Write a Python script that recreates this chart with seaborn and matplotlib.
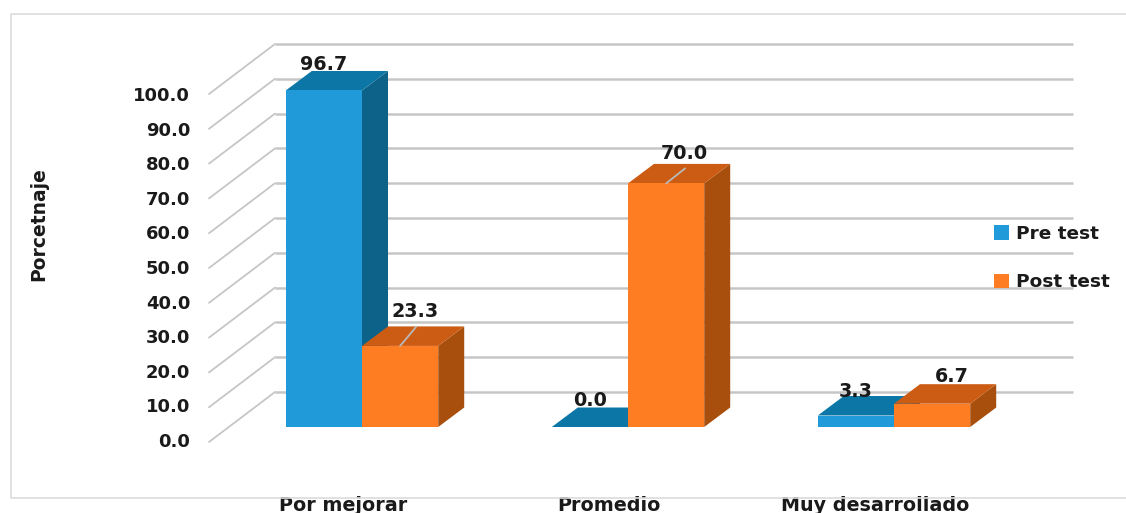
import matplotlib
matplotlib.use("Agg")
import matplotlib.pyplot as plt
from matplotlib.lines import Line2D
from matplotlib.patches import Polygon
import pandas as pd
import seaborn as sns

# Chart values
categories = ["Por mejorar", "Promedio", "Muy desarrollado"]
series_names = ["Pre test", "Post test"]
pre_test = [96.7, 0.0, 3.3]
post_test = [23.3, 70.0, 6.7]
axis_ticks = list(range(0, 101, 10))

# Face colours for the extruded bars: front, top, side
FRONT = {"Pre test": "#219ad9", "Post test": "#ff7d22"}
TOP = {"Pre test": "#0c76a6", "Post test": "#cc5c13"}
SIDE = {"Pre test": "#0c6288", "Post test": "#a94f0e"}
GRID = "#c6c6c6"
TEXT = "#1a1a1a"
FONT = "DejaVu Sans"

W, H = 1126, 513
DPI = 100
PX_PER_UNIT = 3.48   # vertical pixels per percentage point
PX_PER_CAT = 266.0   # horizontal pixels between category groups
BASE_PX = (362.0, 427.0)  # pixel of category 0, value 0 at the bar fronts

sns.set_style("white")
plt.rcParams["font.family"] = [FONT]

fig = plt.figure(figsize=(W / DPI, H / DPI), dpi=DPI, facecolor="white")

# Outer frame of the chart area: open on the right, running off the edge
frame_x = [1.0, 11 / W, 11 / W, 1.0]
frame_y = [1 - 14 / H, 1 - 14 / H, 1 - 498 / H, 1 - 498 / H]
fig.add_artist(Line2D(frame_x, frame_y, transform=fig.transFigure,
                      color="#dcdcdc", linewidth=1.2))

# Axis that carries the tick labels on the front plane of the floor
left_px, right_px, bottom_px, top_px = 200, 1073, 440, 94
axis = fig.add_axes([left_px / W, 1 - bottom_px / H,
                     (right_px - left_px) / W, (bottom_px - top_px) / H])
axis.set_ylim(0, 100)
axis.set_yticks(axis_ticks)
axis.set_yticklabels([f"{v:.1f}" for v in axis_ticks])
label_center_px = 343.0
axis.set_xlim((left_px - label_center_px) / PX_PER_CAT,
              (right_px - label_center_px) / PX_PER_CAT)
axis.set_xticks(range(len(categories)))
axis.set_xticklabels(categories)
axis.tick_params(axis="y", length=0, pad=7, labelsize=13, labelcolor=TEXT)
axis.tick_params(axis="x", length=0, pad=40, labelsize=13.8, labelcolor=TEXT)
for lab in axis.get_xticklabels() + axis.get_yticklabels():
    lab.set_fontweight("bold")
axis.set_ylabel("Porcetnaje", fontsize=13.5, fontweight="bold", color=TEXT)
axis.yaxis.set_label_coords((48 - left_px) / (right_px - left_px),
                            (bottom_px - 224) / (bottom_px - top_px))
for spine in axis.spines.values():
    spine.set_visible(False)
axis.patch.set_alpha(0)

# Main plotting axes spans the figure, so one data unit has a fixed pixel size
ax = fig.add_axes([0, 0, 1, 1])
ax.patch.set_alpha(0)

df = pd.DataFrame({
    "categoria": categories * 2,
    "serie": [series_names[0]] * 3 + [series_names[1]] * 3,
    "valor": pre_test + post_test,
})
sns.barplot(data=df, x="categoria", y="valor", hue="serie", palette=FRONT,
            width=0.573, gap=0, dodge=True, saturation=1, ax=ax,
            errorbar=None, linewidth=0)

ax.set_xlim(-BASE_PX[0] / PX_PER_CAT, (W - BASE_PX[0]) / PX_PER_CAT)
ax.set_ylim((BASE_PX[1] - H) / PX_PER_UNIT, BASE_PX[1] / PX_PER_UNIT)
ax.set_xlabel("")
ax.set_ylabel("")
ax.set_xticks([])
ax.set_yticks([])
for spine in ax.spines.values():
    spine.set_visible(False)


def dx(px):
    return px / PX_PER_CAT


def dy(px):
    return px / PX_PER_UNIT


# Back wall gridlines and the receding lines on the left wall
wall_x0 = (275 - BASE_PX[0]) / PX_PER_CAT
wall_x1 = (1073 - BASE_PX[0]) / PX_PER_CAT
wall_lift = dy(BASE_PX[1] - 392)
front_x = (209 - BASE_PX[0]) / PX_PER_CAT
front_drop = dy(442 - BASE_PX[1])
for v in axis_ticks:
    ax.plot([wall_x0, wall_x1], [v + wall_lift] * 2, color=GRID, lw=1.8,
            solid_capstyle="butt", zorder=1)
    ax.plot([front_x, wall_x0], [v - front_drop, v + wall_lift], color=GRID,
            lw=1.3, zorder=1)

# Extrude each bar into a side and a top face
DEPTH_X, DEPTH_Y = dx(26), dy(19.5)
z = 3.0
for name, container in zip(series_names, ax.containers):
    for bar in container:
        x0, x1 = bar.get_x(), bar.get_x() + bar.get_width()
        h = bar.get_height()
        side = Polygon([(x1, 0), (x1 + DEPTH_X, DEPTH_Y),
                        (x1 + DEPTH_X, h + DEPTH_Y), (x1, h)],
                       facecolor=SIDE[name], edgecolor="none", zorder=z)
        top = Polygon([(x0, h), (x1, h), (x1 + DEPTH_X, h + DEPTH_Y),
                       (x0 + DEPTH_X, h + DEPTH_Y)],
                      facecolor=TOP[name], edgecolor="none", zorder=z)
        ax.add_patch(side)
        ax.add_patch(top)
        bar.set_zorder(z + 0.1)
        z += 1

# Data labels: offsets in pixels from the centre of each bar's top edge
label_offsets = {
    "Pre test": [(0, 26), (0, 26), (0, 24)],
    "Post test": [(15, 34), (18, 30), (20, 27)],
}
for name, container in zip(series_names, ax.containers):
    for bar, (ox, oy) in zip(container, label_offsets[name]):
        cx = bar.get_x() + bar.get_width() / 2
        h = bar.get_height()
        ax.text(cx + dx(ox), h + dy(oy), f"{h:.1f}", ha="center", va="center",
                fontsize=13.8, fontweight="bold", color=TEXT, zorder=50)
        if oy >= 30:
            ax.plot([cx, cx + dx(ox + 1)], [h, h + dy(oy - 15)],
                    color="#b9b9b9", lw=1.3, zorder=49)

# Legend built from the bar handles
handles, labels = ax.get_legend_handles_labels()
leg = ax.legend(handles, labels, frameon=False, loc="upper left",
                bbox_to_anchor=(994 / W, 1 - 225 / H), borderaxespad=0,
                borderpad=0, handlelength=0.81, handleheight=0.81,
                handletextpad=0.38, labelspacing=1.65,
                prop={"size": 13.3, "weight": "bold", "family": FONT})
for t in leg.get_texts():
    t.set_color(TEXT)

fig.savefig("out.png", dpi=DPI, facecolor="white")
